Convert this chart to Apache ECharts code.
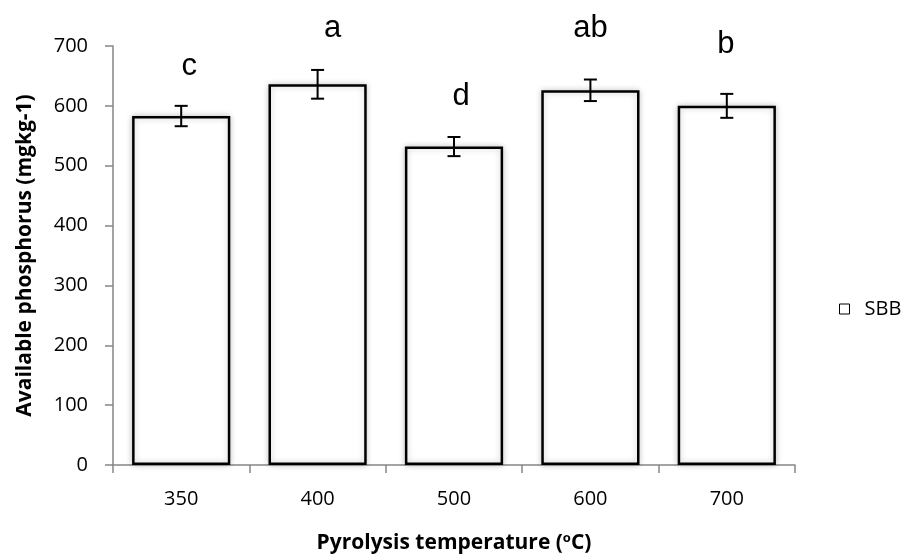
<!DOCTYPE html>
<html>
<head>
<meta charset="utf-8">
<script src="https://cdn.jsdelivr.net/npm/echarts@6/dist/echarts.min.js"></script>
<style>
html,body{margin:0;padding:0;background:#fff;}
#chart{width:908px;height:559px;}
</style>
</head>
<body>
<div id="chart"></div>
<script>
// ---- data ----
var categories = ['350', '400', '500', '600', '700'];
var phosphorus = [583, 636, 532, 626, 600];
var stdErr = [17, 24, 16, 18, 20];
var letters = ['c', 'a', 'd', 'ab', 'b'];
var letterLevel = [666, 730, 616, 730, 702];
var yTicks = [0, 100, 200, 300, 400, 500, 600, 700];
var seriesName = 'SBB';

// ---- layout (not data) ----
var letterDx = [8, 15, 7, 0, -1];

var chart = echarts.init(document.getElementById('chart'), null, {renderer: 'canvas'});

var axisFont = 'Open Sans';

var option = {
  animation: false,
  backgroundColor: '#ffffff',
  grid: {left: 113, right: 113, top: 46, bottom: 89, containLabel: false},
  legend: {
    data: [seriesName],
    left: 834,
    top: 294,
    icon: 'rect',
    itemWidth: 10,
    itemHeight: 10,
    itemStyle: {color: '#ffffff', borderColor: '#000000', borderWidth: 1, shadowBlur: 0, shadowColor: 'transparent'},
    textStyle: {fontFamily: axisFont, fontSize: 20, color: '#000', padding: [0, 0, 0, 10]}
  },
  xAxis: {
    type: 'category',
    data: categories,
    boundaryGap: true,
    name: '{b|Pyrolysis temperature (}{s|o}{b|C)}',
    nameLocation: 'middle',
    nameGap: 67,
    nameTextStyle: {
      rich: {
        b: {fontFamily: axisFont, fontWeight: 'bold', fontSize: 21, color: '#000'},
        s: {fontFamily: axisFont, fontWeight: 'bold', fontSize: 13, color: '#000', padding: [0, 0, 10, 0]}
      }
    },
    axisLine: {show: true, lineStyle: {color: '#868686', width: 1.5}},
    axisTick: {show: true, alignWithLabel: false, interval: 0, length: 8, lineStyle: {color: '#868686', width: 1.5}},
    axisLabel: {fontFamily: axisFont, fontSize: 20, color: '#000', margin: 24, interval: 0},
    splitLine: {show: false}
  },
  yAxis: {
    type: 'value',
    min: yTicks[0],
    max: yTicks[yTicks.length - 1],
    interval: yTicks[1] - yTicks[0],
    name: 'Available phosphorus (mgkg-1)',
    nameLocation: 'middle',
    nameRotate: 90,
    nameGap: 77,
    nameTextStyle: {fontFamily: axisFont, fontWeight: 'bold', fontSize: 21, color: '#000'},
    axisLine: {show: true, lineStyle: {color: '#868686', width: 1.5}},
    axisTick: {show: true, length: 8, lineStyle: {color: '#868686', width: 1.5}},
    axisLabel: {fontFamily: axisFont, fontSize: 20, color: '#000', margin: 25},
    splitLine: {show: false}
  },
  series: [
    {
      name: seriesName,
      type: 'bar',
      data: phosphorus,
      barWidth: '72%',
      itemStyle: {
        color: '#ffffff',
        borderColor: '#000000',
        borderWidth: 2.5,
        shadowColor: 'rgba(0,0,0,0.22)',
        shadowBlur: 6
      },
      z: 2
    },
    {
      name: 'errors',
      type: 'custom',
      clip: false,
      z: 5,
      data: phosphorus.map(function (v, i) { return [i, v, stdErr[i], letterLevel[i]]; }),
      renderItem: function (params, api) {
        var i = api.value(0);
        var v = api.value(1);
        var e = api.value(2);
        var top = api.coord([i, v + e]);
        var bot = api.coord([i, v - e]);
        var lab = api.coord([i, api.value(3)]);
        var cap = 6.5;
        var ls = {stroke: '#000', lineWidth: 2};
        return {
          type: 'group',
          children: [
            {type: 'line', shape: {x1: top[0], y1: top[1], x2: bot[0], y2: bot[1]}, style: ls},
            {type: 'line', shape: {x1: top[0] - cap, y1: top[1], x2: top[0] + cap, y2: top[1]}, style: ls},
            {type: 'line', shape: {x1: bot[0] - cap, y1: bot[1], x2: bot[0] + cap, y2: bot[1]}, style: ls},
            {type: 'text', x: lab[0] + letterDx[params.dataIndex], y: lab[1],
              style: {text: letters[params.dataIndex], fill: '#000', fontFamily: 'Liberation Sans', fontSize: 31,
                align: 'center', verticalAlign: 'middle'}}
          ]
        };
      }
    }
  ]
};
chart.setOption(option);
</script>
</body>
</html>
